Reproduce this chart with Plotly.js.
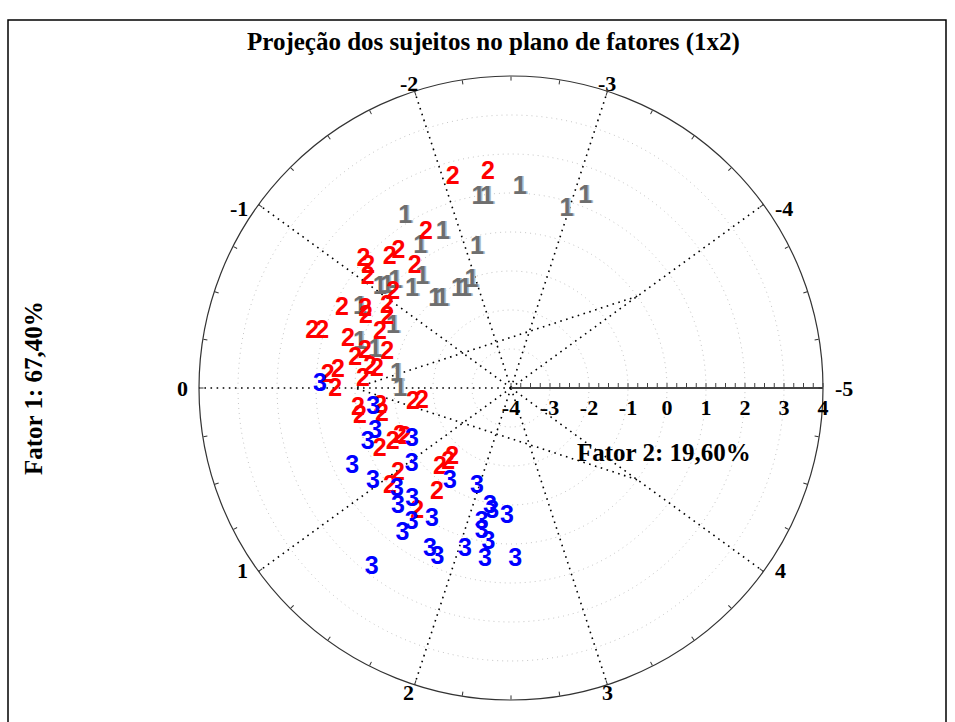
<!DOCTYPE html>
<html><head><meta charset="utf-8">
<script src="https://cdn.plot.ly/plotly-3.0.1.min.js"></script>
<style>body{margin:0;background:#fff}#chart{width:955px;height:722px}</style>
</head><body><div id="chart"></div>
<script>
// Angular positions in axis units (one unit = 36 degrees, 0 at the left), radial values on Fator 2 scale
const group1_theta = [-2.57,-2.23,-2.30,-2.98,-3.09,-1.62,-1.84,-2.12,-1.59,-1.42,-1.04,-1.09,-1.18,-1.24,-1.37,-1.44,-1.71,-1.80,-1.94,-0.78,-0.76,-0.46,-0.43,-0.18,0.03];
const group1_r     = [1.13,0.94,0.91,0.78,1.25,1.16,0.34,-0.31,0.30,-0.37,0.24,0.10,0.03,-0.43,-1.02,-1.13,-1.14,-1.22,-1.06,0.39,-0.59,0.04,-0.38,-1.06,-1.15];

const group2_theta = [-2.07,-2.33,-1.70,-1.40,-1.31,-1.43,-1.14,-1.12,-1.04,-1.08,-0.70,-0.78,-0.73,-0.92,-0.82,-0.44,-0.46,-0.64,-0.46,-0.39,-0.30,-0.44,-0.16,-0.11,-0.23,-0.21,-0.09,0.02,0.21,0.30,0.23,0.33,0.23,0.25,0.70,0.69,0.66,0.70,1.03,1.09,1.47,1.34,1.39,1.38,1.52];
const group2_r     = [1.59,1.54,0.53,0.53,0.57,-0.04,1.02,0.80,0.63,-0.12,0.79,0.24,0.15,-0.20,-0.35,1.30,1.05,-0.35,0.36,-0.14,0.07,-0.70,0.46,0.71,-0.35,-0.53,-0.20,0.51,-0.04,-0.06,-0.61,-0.62,-1.46,-1.69,-0.28,-0.66,-0.89,-0.99,-0.37,0.01,-0.01,-1.26,-1.49,-1.67,-0.71];

const group3_theta = [-0.03,0.23,0.50,0.58,0.77,0.73,1.05,0.95,1.58,1.16,1.29,1.35,1.64,1.49,1.48,1.97,2.22,2.26,2.16,2.18,2.45,2.27,2.26,2.06,1.76,1.85,2.54,1.45];
const group3_r     = [0.90,-0.43,-0.34,-0.07,-1.13,0.54,-0.78,0.28,-1.13,-0.08,0.21,-0.17,-0.06,0.29,0.65,-1.32,-0.90,-0.78,-0.46,-0.23,-0.69,0.02,0.46,0.32,0.64,0.75,0.41,1.83];

const angularLabels = ["0","1","2","3","4","-5","-4","-3","-2","-1"];
const radialTicks = [-4,-3,-2,-1,0,1,2,3,4];

const DEG = 36; // degrees per angular unit
const toDeg = a => a.map(v => v * DEG);

const traces = [];
// concentric grid circles
const circTheta = []; for (let t = 0; t <= 360; t += 1) circTheta.push(t);
radialTicks.slice(1, -1).forEach(rv => {
  traces.push({type:'scatterpolar', mode:'lines', r: circTheta.map(() => rv), theta: circTheta,
    line:{color:'#c4c4c4', width:1, dash:'1px,4px'}, hoverinfo:'skip', showlegend:false});
});
const spokeLine = {color:'#000', width:1.6, dash:'1.6px,4.5px'};
// spokes
angularLabels.forEach((lab, i) => {
  if (i === 5) return; // right side carries the radial axis
  traces.push({type:'scatterpolar', mode:'lines', r:[-4, 4], theta:[i*DEG, i*DEG],
    line:spokeLine, hoverinfo:'skip', showlegend:false});
});
// chords joining the zero circle at labels -4, 0 and 4
const chordLabels = ["-4","0","4"];
traces.push({type:'scatterpolar', mode:'lines', r: chordLabels.map(() => 0),
  theta: chordLabels.map(l => angularLabels.indexOf(l) * DEG), line:spokeLine, hoverinfo:'skip', showlegend:false});

function txt(th, r, label, color, shadow) {
  return {type:'scatterpolar', mode:'text', r: r, theta: toDeg(th), text: th.map(() => label),
    textposition:'middle center', cliponaxis:false, hoverinfo:'skip', showlegend:false,
    textfont:{family:'Liberation Sans, Arial, sans-serif', size:25, weight:'bold', color: color, shadow: shadow || 'none'}};
}
traces.push(txt(group1_theta, group1_r, '1', '#6e6e6e', '1.5px 0px 0px #a8bccc'));
traces.push(txt(group2_theta, group2_r, '2', '#ff0000'));
traces.push(txt(group3_theta, group3_r, '3', '#0000ff'));

const angTickVals = [];
for (let k = 0; k < 40; k++) angTickVals.push(k * 9);
const radTickVals = [], radTickText = [];
for (let v = -4; v <= 4.001; v += 0.25) { radTickVals.push(v); radTickText.push(Math.abs(v - Math.round(v)) < 1e-6 ? String(Math.round(v)) : ''); }

const serifBold = {family:'Liberation Serif, Times New Roman, serif', size:22, weight:'bold', color:'#000'};

// geometry of the polar area (pixels)
const W = 955, H = 722, CX = 511, CY = 388, R = 312;
const annotations = [
  {text:'Projeção dos sujeitos no plano de fatores (1x2)', xref:'paper', yref:'paper', x:493/W, y:1-42/H,
    showarrow:false, xanchor:'center', yanchor:'middle', font:{...serifBold, size:25}},
  {text:'Fator 1: 67,40%', xref:'paper', yref:'paper', x:33/W, y:1-388/H, textangle:-90,
    showarrow:false, xanchor:'center', yanchor:'middle', font:{...serifBold, size:25}},
  {text:'Fator 2: 19,60%', xref:'paper', yref:'paper', x:664/W, y:1-452/H,
    showarrow:false, xanchor:'center', yanchor:'middle', font:{...serifBold, size:25}}
];
// angular labels placed just outside the circle
angularLabels.forEach((lab, i) => {
  const a = (180 + i * DEG) * Math.PI / 180;
  const c = Math.cos(a), s = Math.sin(a);
  let px = CX + R * c, py = CY - R * s;
  let xa = 'center';
  if (Math.abs(c) > 0.5) {
    xa = c < 0 ? 'right' : 'left';
    px += c < 0 ? -9 : 10;
    py += s > 0.1 ? 4 : (s < -0.1 ? -1 : 0);
  } else {
    py -= 8 * Math.sign(s);
    px += c < 0 ? -6 : 0;
  }
  annotations.push({text: lab, xref:'paper', yref:'paper', x: px / W, y: 1 - py / H, showarrow:false,
    xanchor: xa, yanchor:'middle', font: serifBold});
});

const layout = {
  width:W, height:H, margin:{l:0, r:0, t:0, b:0},
  paper_bgcolor:'#fff', showlegend:false,
  polar:{
    domain:{x:[(CX-R)/W, (CX+R)/W], y:[(H-CY-R)/H, (H-CY+R)/H]},
    bgcolor:'#fff',
    angularaxis:{rotation:180, direction:'counterclockwise', tickmode:'array', tickvals:angTickVals,
      showticklabels:false, showgrid:false, showline:true, linecolor:'#333', linewidth:1.2,
      ticks:'inside', ticklen:4, tickcolor:'#333'},
    radialaxis:{range:[-4,4], angle:0, side:'clockwise', tickmode:'array', tickvals:radTickVals, ticktext:radTickText,
      showgrid:false, showline:true, linecolor:'#444', linewidth:2, ticks:'inside', ticklen:4, tickcolor:'#444',
      tickfont:serifBold, tickangle:0}
  },
  annotations: annotations,
  shapes:[{type:'rect', xref:'paper', yref:'paper', x0:8/W, x1:946/W, y0:-0.01, y1:1-20/H, line:{color:'#000', width:1.5}}]
};
Plotly.newPlot('chart', traces, layout, {displayModeBar:false, staticPlot:true});
</script></body></html>
